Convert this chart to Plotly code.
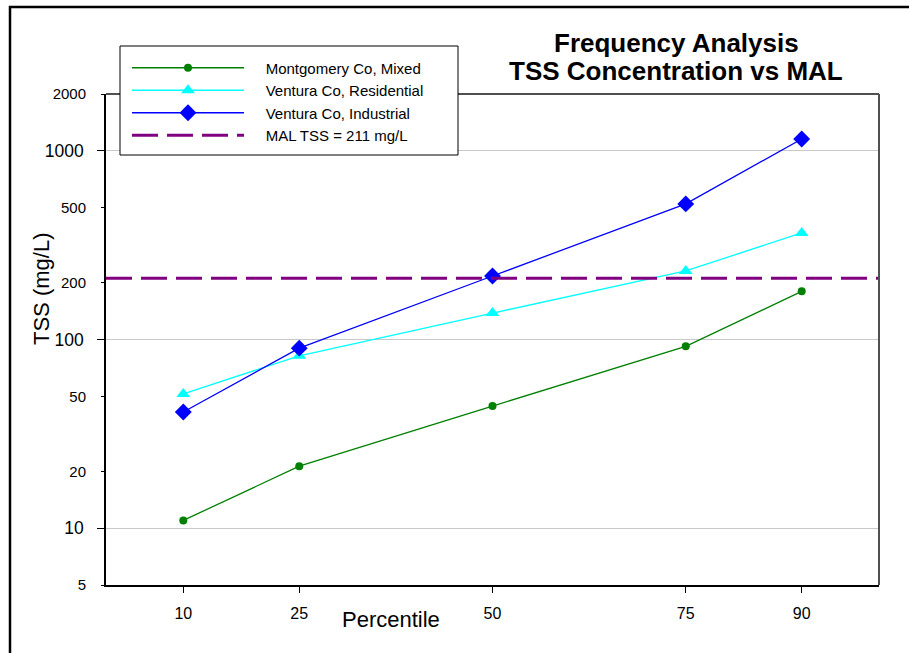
import plotly.graph_objects as go

percentiles = [10, 25, 50, 75, 90]
montgomery_mixed = [11.0, 21.3, 44.4, 92, 180]
ventura_residential = [51.5, 82, 138, 231, 367]
ventura_industrial = [41.3, 90, 217, 523, 1155]
mal_tss = 211
mal_x = [0, 100]

major_ticks = [10, 100, 1000]
minor_ticks = [5, 20, 50, 200, 500, 2000]
x_ticks = [10, 25, 50, 75, 90]

FONT = "Liberation Sans, Arial, sans-serif"
PAD = "\u00a0" * 4

# plot area in px: x 106..879, y 94..585
def px_x(v):
    return (v - 106) / 773

def px_y(v):
    return (585 - v) / 491

fig = go.Figure()
fig.add_trace(go.Scatter(
    x=percentiles, y=montgomery_mixed, mode="lines+markers",
    name=PAD + "Montgomery Co, Mixed",
    line=dict(color="#008000", width=1.3),
    marker=dict(symbol="circle", size=8, color="#008000")))
fig.add_trace(go.Scatter(
    x=percentiles, y=ventura_residential, mode="lines+markers",
    name=PAD + "Ventura Co, Residential",
    line=dict(color="#00FFFF", width=1.3),
    marker=dict(symbol="triangle-up", size=12, color="#00FFFF")))
fig.add_trace(go.Scatter(
    x=percentiles, y=ventura_industrial, mode="lines+markers",
    name=PAD + "Ventura Co, Industrial",
    line=dict(color="#0000FF", width=1.3),
    marker=dict(symbol="diamond", size=13, color="#0000FF")))
fig.add_trace(go.Scatter(
    x=mal_x, y=[mal_tss, mal_tss], mode="lines",
    name=PAD + "MAL TSS = 211 mg/L", yaxis="y2",
    line=dict(color="#800080", width=3, dash="26px,9px")))

yr = [0.69897, 3.30103]
fig.update_layout(
    width=909, height=653,
    margin=dict(l=106, r=30, t=94, b=68),
    paper_bgcolor="white", plot_bgcolor="white",
    font=dict(family=FONT, color="black"),
    showlegend=True,
    legend=dict(x=px_x(127), y=px_y(51.5), xanchor="left", yanchor="top",
                borderwidth=0, bgcolor="rgba(0,0,0,0)",
                font=dict(size=15, family=FONT), itemwidth=112,
                tracegroupgap=0),
    xaxis=dict(range=[0, 100], tickvals=x_ticks, ticks="outside",
               ticklen=6, tickcolor="black", showgrid=False, zeroline=False,
               showline=True, linecolor="black", linewidth=1.5,
               tickfont=dict(size=16, family=FONT), ticklabelstandoff=7),
    yaxis=dict(type="log", range=yr, tickvals=major_ticks,
               ticktext=[str(v) for v in major_ticks],
               ticks="outside", ticklen=7, tickcolor="black",
               showgrid=True, gridcolor="#c8c8c8", gridwidth=1,
               showline=True, linecolor="black", linewidth=1.5,
               zeroline=False, tickfont=dict(size=17.5, family=FONT),
               ticklabelstandoff=10),
    yaxis2=dict(type="log", range=yr, overlaying="y", side="left",
                tickvals=minor_ticks, ticktext=[str(v) for v in minor_ticks],
                ticks="outside", ticklen=4, tickcolor="black",
                showgrid=False, showline=False, zeroline=False,
                tickfont=dict(size=15, family=FONT), ticklabelstandoff=12),
    shapes=[
        dict(type="line", xref="paper", yref="paper", x0=0, x1=1, y0=1, y1=1,
             line=dict(color="#505050", width=2)),
        dict(type="line", xref="paper", yref="paper", x0=1, x1=1, y0=0, y1=1,
             line=dict(color="#505050", width=2)),
        dict(type="rect", xref="paper", yref="paper", x0=px_x(10), x1=1.2,
             y0=-0.3, y1=px_y(7), line=dict(color="black", width=2.5)),
        dict(type="rect", xref="paper", yref="paper", x0=px_x(120),
             x1=px_x(458), y0=px_y(155), y1=px_y(46),
             line=dict(color="black", width=1), fillcolor="white",
             layer="above"),
    ],
    annotations=[
        dict(text="<b>Frequency Analysis</b>",
             xref="paper", yref="paper", x=px_x(676), y=px_y(43),
             xanchor="center", yanchor="middle", showarrow=False,
             font=dict(size=26, family=FONT, color="black")),
        dict(text="<b>TSS Concentration vs MAL</b>",
             xref="paper", yref="paper", x=px_x(676), y=px_y(71),
             xanchor="center", yanchor="middle", showarrow=False,
             font=dict(size=26, family=FONT, color="black")),
        dict(text="Percentile", xref="paper", yref="paper",
             x=px_x(391), y=px_y(619), xanchor="center",
             yanchor="middle", showarrow=False,
             font=dict(size=22, family=FONT, color="black")),
        dict(text="TSS (mg/L)", xref="paper", yref="paper",
             x=px_x(41), y=px_y(289), xanchor="center",
             yanchor="middle", showarrow=False, textangle=-90,
             font=dict(size=22, family=FONT, color="black")),
    ],
)

fig.write_html("out.html")
